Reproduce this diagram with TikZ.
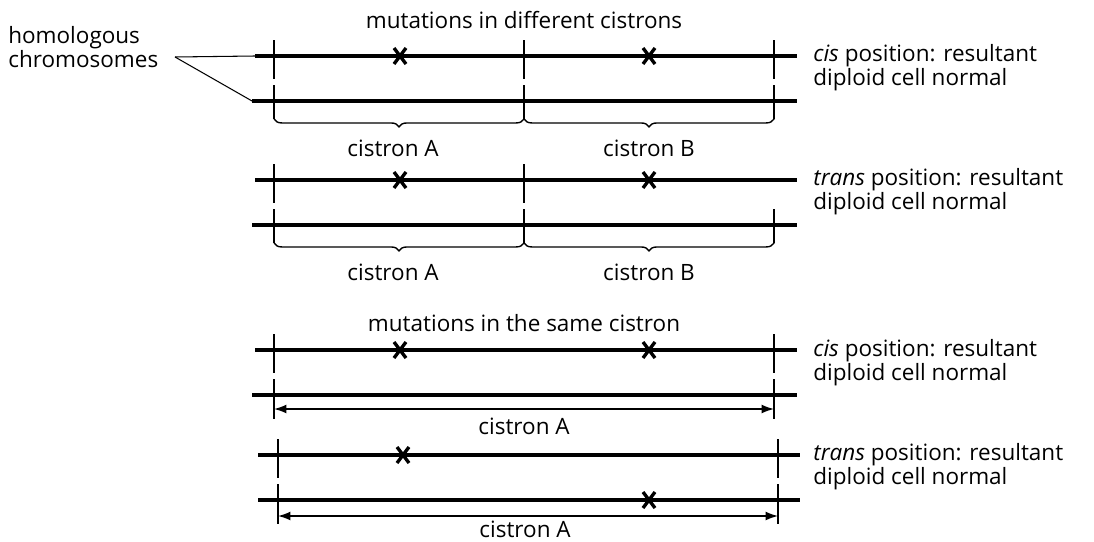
\documentclass[tikz,border=0pt]{standalone}
\usepackage{fontspec}
\setmainfont{Open Sans}
\usetikzlibrary{decorations.pathreplacing,arrows.meta}

\tikzset{
	chrom/.style={line width=2.4pt},
	cut/.style={line width=1.2pt},
	cross/.style={line width=1.9pt},
	cisbrace/.style={decorate,decoration={brace,mirror,amplitude=4.5pt},line width=0.8pt},
	span/.style={{Latex[length=7pt,width=5pt]}-{Latex[length=7pt,width=5pt]},line width=0.8pt},
	lbl/.style={font=\fontsize{12.8}{13.8}\selectfont,inner sep=0pt},
	note/.style={lbl,align=left,anchor=west}
}
% croix de mutation
\newcommand{\mutmark}[2]{\draw[cross] (#1,#2) ++(-6,-8) -- ++(12,16) ++(0,-16) -- ++(-12,16);}

\begin{document}
\begin{tikzpicture}[x=0.02cm,y=-0.02cm]
	\useasboundingbox (0,0) rectangle (1094,541);

	% mutations dans deux cistrons differents, cis
	\node[lbl] (titleA) at (524,20) {mutations in different cistrons};
	\node[lbl,align=left,anchor=west] (homol) at (8,47) {homologous\\chromosomes};
	\coordinate (pt) at (175,57);
	\coordinate (a1) at (255,56);
	\coordinate (b1) at (252,101);
	\draw[line width=0.6pt] (pt) -- (a1);
	\draw[line width=0.6pt] (pt) -- (b1);
	\draw[chrom] (a1) -- (797,56);
	\draw[chrom] (b1) -- (797,101);
	\foreach \x in {274,524,774}{
		\draw[cut] (\x,40) -- (\x,79);
		\draw[cut] (\x,85) -- (\x,119); }
	\mutmark{400}{56}
	\mutmark{649}{56}
	\draw[cisbrace] (274,119) -- (524,119);
	\draw[cisbrace] (524,119) -- (774,119);
	\node[lbl] (cA1) at (393,148) {cistron A};
	\node[lbl] (cB1) at (649,148) {cistron B};
	\node[note] (n1) at (813,68) {\textit{cis} position: resultant\\diploid cell normal};

	% trans
	\draw[chrom] (255,180) -- (797,180);
	\draw[chrom] (252,225) -- (797,225);
	\foreach \x in {274,524}{
		\draw[cut] (\x,164) -- (\x,203); }
	\foreach \x in {274,524,774}{
		\draw[cut] (\x,209) -- (\x,243); }
	\mutmark{400}{180}
	\mutmark{649}{180}
	\draw[cisbrace] (274,243) -- (524,243);
	\draw[cisbrace] (524,243) -- (774,243);
	\node[lbl] (cA2) at (393,272) {cistron A};
	\node[lbl] (cB2) at (649,272) {cistron B};
	\node[note] (n2) at (813,192) {\textit{trans} position: resultant\\diploid cell normal};

	% meme cistron, cis
	\node[lbl] (titleB) at (524,323) {mutations in the same cistron};
	\draw[chrom] (255,350) -- (797,350);
	\draw[chrom] (252,395) -- (797,395);
	\foreach \x in {274,774}{
		\draw[cut] (\x,334) -- (\x,373);
		\draw[cut] (\x,379) -- (\x,419); }
	\mutmark{400}{350}
	\mutmark{649}{350}
	\draw[span] (274,409) -- (774,409);
	\node[lbl] (cA3) at (524,426) {cistron A};
	\node[note] (n3) at (813,363) {\textit{cis} position: resultant\\diploid cell normal};

	% trans
	\draw[chrom] (258,455) -- (800,455);
	\draw[chrom] (258,500) -- (800,500);
	\foreach \x in {278,778}{
		\draw[cut] (\x,439) -- (\x,478);
		\draw[cut] (\x,484) -- (\x,524); }
	\mutmark{403}{455}
	\mutmark{649}{500}
	\draw[span] (278,516) -- (778,516);
	\node[lbl,anchor=base] (cA4) at (525,537) {cistron A};
	\node[note] (n4) at (813,467) {\textit{trans} position: resultant\\diploid cell normal};
\end{tikzpicture}
\end{document}
